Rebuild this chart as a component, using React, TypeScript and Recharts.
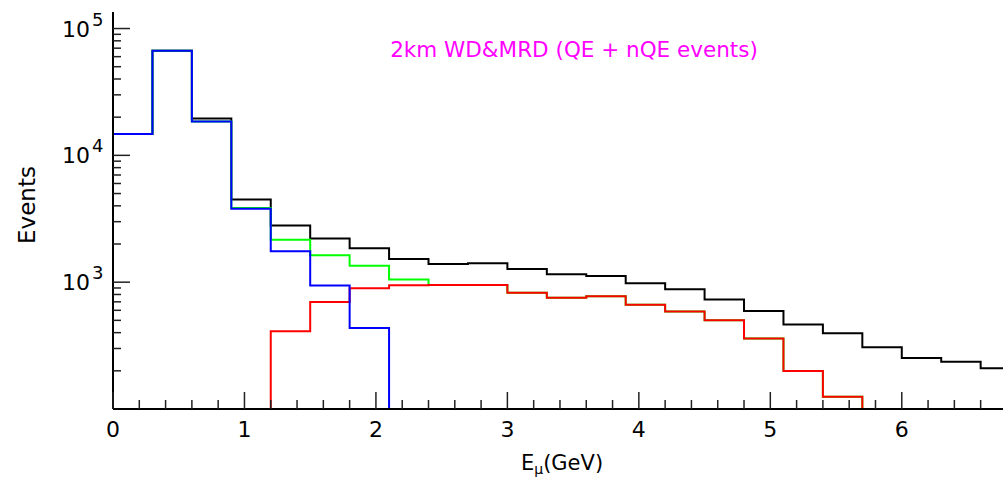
import React from 'react'
import { ComposedChart, Line, XAxis, YAxis } from 'recharts'

// bin edges in GeV (0.3 GeV bins), last entry is the right edge of the last bin
const binEdges = [0, 0.3, 0.6, 0.9, 1.2, 1.5, 1.8, 2.1, 2.4, 2.7, 3.0, 3.3, 3.6, 3.9, 4.2, 4.5, 4.8, 5.1, 5.4, 5.7, 6.0, 6.3, 6.6, 6.9]

// events per bin, null = no entry
const blackTotal = [14760, 66700, 19550, 4480, 2800, 2215, 1850, 1524, 1392, 1410, 1271, 1155, 1120, 982, 881, 731, 593, 463, 395, 307, 253, 236, 210]
const greenSeries = [14760, 66700, 18500, 3850, 2160, 1630, 1350, 1048, 952, 952, 824, 753, 776, 664, 588, 500, 359, 199, 125, null, null, null, null]
const redSeries = [null, null, null, null, 410, 697, 897, 947, 952, 952, 824, 753, 776, 664, 588, 500, 359, 199, 125, null, null, null, null]
const blueSeries = [14760, 66700, 18500, 3800, 1750, 940, 436, null, null, null, null, null, null, null, null, null, null, null, null, null, null, null, null]

const xMajor = [0, 1, 2, 3, 4, 5, 6]
const xTicks = [0, 0.2, 0.4, 0.6, 0.8, 1, 1.2, 1.4, 1.6, 1.8, 2, 2.2, 2.4, 2.6, 2.8, 3, 3.2, 3.4, 3.6, 3.8, 4, 4.2, 4.4, 4.6, 4.8, 5, 5.2, 5.4, 5.6, 5.8, 6, 6.2, 6.4, 6.6]
const yTicks = [200, 300, 400, 500, 600, 700, 800, 900, 1000, 2000, 3000, 4000, 5000, 6000, 7000, 8000, 9000, 10000, 20000, 30000, 40000, 50000, 60000, 70000, 80000, 90000, 100000]

const FLOOR = 100
const X_DOMAIN = [0, 6.77]
const Y_DOMAIN = [FLOOR, 135000]

const PLOT_LEFT = 113
const PLOT_TOP = 12
const PLOT_BOTTOM = 409
const FONT = 'DejaVu Sans'

// turn per-bin values into step points (histogram outline down to the axis)
const toSteps = (vals: (number | null)[]) => {
  const idx = vals.map((v, i) => (v == null ? -1 : i)).filter((i) => i >= 0)
  const first = idx[0]
  const last = idx[idx.length - 1]
  const pts = [{ e: binEdges[first], v: FLOOR }]
  for (let i = first; i <= last; i++) pts.push({ e: binEdges[i], v: vals[i] as number })
  pts.push({ e: binEdges[last + 1], v: FLOOR })
  return pts
}

const isMajorX = (v: number) => xMajor.some((m) => Math.abs(m - v) < 1e-6)

const BottomTick = (props: any) => {
  const { x, payload } = props
  const major = isMajorX(payload.value)
  return (
    <g>
      <line x1={x} x2={x} y1={PLOT_BOTTOM} y2={PLOT_BOTTOM - (major ? 17 : 9)} stroke="#222" strokeWidth={1.5} />
      {major && (
        <text x={x} y={437} textAnchor="middle" fontFamily={FONT} fontSize={22} fill="#000">
          {payload.value}
        </text>
      )}
    </g>
  )
}

const TopTick = (props: any) => {
  const { x, payload } = props
  const major = isMajorX(payload.value)
  return <line x1={x} x2={x} y1={PLOT_TOP} y2={PLOT_TOP + (major ? 17 : 8)} stroke="#222" strokeWidth={1.5} />
}

const LeftTick = (props: any) => {
  const { y, payload } = props
  const exp = Math.log10(payload.value)
  const major = Math.abs(exp - Math.round(exp)) < 1e-6
  return (
    <g>
      <line x1={PLOT_LEFT} x2={PLOT_LEFT + (major ? 17 : 8)} y1={y} y2={y} stroke="#222" strokeWidth={1.5} />
      {major && (
        <text fontFamily={FONT} fill="#000">
          <tspan x={90} y={y + 8} textAnchor="end" fontSize={22}>10</tspan>
          <tspan x={92} y={y - 3} fontSize={18}>{Math.round(exp)}</tspan>
        </text>
      )}
    </g>
  )
}

const series = [
  { name: 'total', vals: blackTotal, color: '#000000' },
  { name: 'green', vals: greenSeries, color: '#00ff00' },
  { name: 'red', vals: redSeries, color: '#ff0000' },
  { name: 'blue', vals: blueSeries, color: '#0000ff' },
]

const App = () => {
  return (
    <div style={{ position: 'absolute', left: 0, top: 0, background: '#fff' }}>
      <ComposedChart width={1003} height={480} margin={{ top: PLOT_TOP, right: 0, bottom: 0, left: 0 }}>
        <XAxis
          xAxisId="b"
          type="number"
          dataKey="e"
          domain={X_DOMAIN}
          allowDataOverflow
          ticks={xTicks}
          interval={0}
          tick={<BottomTick />}
          tickLine={false}
          axisLine={{ stroke: '#000', strokeWidth: 2 }}
          height={480 - PLOT_BOTTOM - PLOT_TOP + PLOT_TOP}
        />
        <XAxis
          xAxisId="t"
          orientation="top"
          type="number"
          dataKey="e"
          domain={X_DOMAIN}
          allowDataOverflow
          ticks={xTicks}
          interval={0}
          tick={<TopTick />}
          tickLine={false}
          axisLine={{ stroke: '#000', strokeWidth: 2 }}
          height={0}
        />
        <YAxis
          yAxisId="l"
          type="number"
          scale="log"
          domain={Y_DOMAIN}
          allowDataOverflow
          ticks={yTicks}
          interval={0}
          tick={<LeftTick />}
          tickLine={false}
          axisLine={{ stroke: '#000', strokeWidth: 2 }}
          width={PLOT_LEFT}
        />
        {series.map((s) => (
          <Line
            key={s.name}
            xAxisId="b"
            yAxisId="l"
            data={toSteps(s.vals)}
            dataKey="v"
            type="stepAfter"
            stroke={s.color}
            strokeWidth={2}
            dot={false}
            activeDot={false}
            isAnimationActive={false}
          />
        ))}
        <text x={574} y={57} textAnchor="middle" fontFamily={FONT} fontSize={21.5} fill="#ff00ff">
          2km WD&amp;MRD (QE + nQE events)
        </text>
        <text x={562} y={470} textAnchor="middle" fontFamily={FONT} fontSize={21} fill="#000">
          E<tspan fontSize={14} dy={4}>μ</tspan>
          <tspan dy={-4}>(GeV)</tspan>
        </text>
        <text
          x={0}
          y={0}
          transform="translate(35 205) rotate(-90)"
          textAnchor="middle"
          fontFamily={FONT}
          fontSize={23}
          fill="#000"
        >
          Events
        </text>
      </ComposedChart>
    </div>
  )
}

export default App
